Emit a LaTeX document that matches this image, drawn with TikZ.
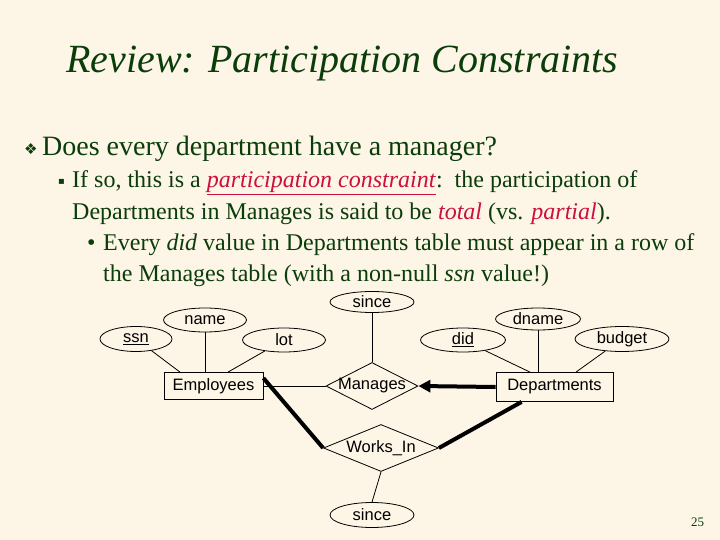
\documentclass[tikz,border=0pt]{standalone}
\usepackage{fontspec}
\setmainfont{Liberation Serif}
\setsansfont{Liberation Sans}
\newfontfamily\symf{DejaVu Sans}
\usetikzlibrary{shapes.geometric,arrows.meta}
\definecolor{bg}{HTML}{FDF5E6}
\definecolor{tg}{HTML}{0B3D0B}
\definecolor{rd}{HTML}{CC1040}
\begin{document}
\begin{tikzpicture}[x=1pt,y=-1pt,
  attr/.style={ellipse,draw,thick,inner sep=0,font=\sffamily\fontsize{16.5}{16.5}\selectfont},
  ent/.style={rectangle,draw,thick,inner sep=0,font=\sffamily\fontsize{16.5}{16.5}\selectfont},
  rel/.style={diamond,draw,thick,inner sep=0,label={[font=\sffamily\fontsize{16.5}{16.5}\selectfont]center:#1}},
  ln/.style={thick},
  tot/.style={line width=4pt},
  body/.style={anchor=base west,inner sep=0,text=tg}]
\fill[bg] (0,0) rectangle (720,540);
\useasboundingbox (0,0) rectangle (720,540);
% text
\node[body,font=\fontsize{40}{40}\selectfont\itshape] (title) at (66,73) {Review: Participation Constraints};
\node[body,font=\symf\fontsize{15}{15}\selectfont] (b1) at (24,155) {❖};
\node[body,font=\fontsize{28}{28}\selectfont] (l1) at (42,156) {Does every department have a manager?};
\node[body,font=\symf\fontsize{10}{10}\selectfont] (b2) at (58,185) {▪};
\node[body,font=\fontsize{24}{24}\selectfont] (l2) at (72,188) {If so, this is a \textcolor{rd}{\underline{\textit{participation constraint}}}:\ \ the participation of};
\node[body,font=\fontsize{24}{24}\selectfont] (l3) at (72,219) {Departments in Manages is said to be \textcolor{rd}{\textit{total}} (vs. \textcolor{rd}{\textit{partial}}).};
\node[body,font=\fontsize{24}{24}\selectfont] (b3) at (87,250) {•};
\node[body,font=\fontsize{24}{24}\selectfont] (l4) at (103,250) {Every \textit{did} value in Departments table must appear in a row of};
\node[body,font=\fontsize{24}{24}\selectfont] (l5) at (103,281) {the Manages table (with a non-null \textit{ssn} value!)};
\node[body,font=\fontsize{13}{13}\selectfont] (pg) at (691,526) {25};
% diagram
\node[ent,minimum width=99,minimum height=27] (emp) at (213.5,386) {Employees};
\node[ent,minimum width=117,minimum height=29] (dep) at (554.5,387) {Departments};
\node[rel=Manages,minimum width=92,minimum height=47] (man) at (372,386) {};
\node[rel=Works\_In,minimum width=115,minimum height=47] (wi) at (381,448) {};
\node[attr,minimum width=84,minimum height=21] (s1) at (372,302) {since};
\node[attr,minimum width=83,minimum height=24] (nm) at (205,320) {name};
\node[attr,minimum width=72,minimum height=25] (ssn) at (136,339) {\underline{ssn}};
\node[attr,minimum width=83,minimum height=24] (lot) at (284,340) {lot};
\node[attr,minimum width=85,minimum height=24] (did) at (463,340) {\underline{did}};
\node[attr,minimum width=85,minimum height=22] (dn) at (538,319) {dname};
\node[attr,minimum width=94,minimum height=25] (bd) at (622,339) {budget};
\node[attr,minimum width=84,minimum height=25] (s2) at (372,515) {since};
\draw[ln] (ssn) -- (emp.north west -| 180,0);
\draw[ln] (nm) -- (nm |- emp.north);
\draw[ln] (lot) -- (emp.north west -| 228,0);
\draw[ln] (s1) -- (man.north);
\draw[ln] (did) -- (dep.north west -| 530,0);
\draw[ln] (dn) -- (dn |- dep.north);
\draw[ln] (bd) -- (dep.north west -| 576,0);
\draw[ln] (emp.east) -- (man.west);
\draw[ln] (wi.south) -- (s2.north);
\draw[tot,-{Triangle[length=12pt,width=12pt]}] (dep.west) -- (man.east);
\draw[tot] (emp.north east) ++(0,6) -- (wi.west);
\draw[tot] (dep.south west) ++(26,0) -- (wi.east);
\end{tikzpicture}
\end{document}
